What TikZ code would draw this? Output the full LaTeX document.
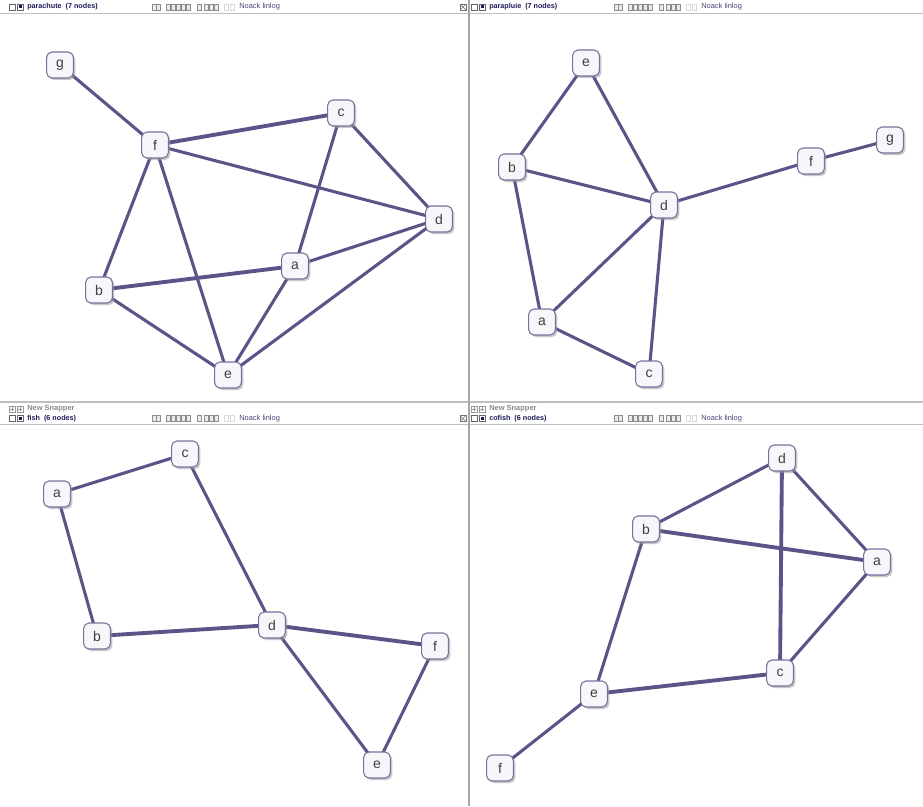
\documentclass[tikz,border=0pt]{standalone}
\usepackage{fontspec}
\setmainfont{Liberation Sans}
\usetikzlibrary{shadows,backgrounds}
\definecolor{edgecol}{RGB}{92,84,136}
\definecolor{vertline}{RGB}{120,113,155}
\definecolor{vertfill}{RGB}{246,246,251}
\definecolor{headtext}{RGB}{26,26,90}
\definecolor{panelline}{RGB}{190,190,196}
\tikzset{
  vert/.style={draw=vertline, fill=vertfill, rounded corners=4pt, line width=0.8pt,
    minimum width=20pt, minimum height=19.5pt, inner sep=0pt, text=black!75,
    font=\fontsize{10.5}{11}\selectfont,
    drop shadow={shadow xshift=1.5pt, shadow yshift=-1.5pt, fill=black!40, opacity=0.55}},
  edge/.style={draw=edgecol, line width=2.3pt},
  heavy/.style={draw=edgecol, line width=2.9pt},
  tool/.style={draw=black!45, fill=black!8, line width=0.3pt},
  headlabel/.style={anchor=west, inner sep=0pt, text=headtext, font=\fontsize{5.4}{6}\selectfont\bfseries},
}
% one header bar of a panel, #1 = left edge, #2 = centre line, #3 = title
\newcommand{\headbar}[3]{%
  \draw[black!60, line width=0.4pt] (#1+9,#2-3) rectangle (#1+15,#2+3);
  \draw[black!60, line width=0.4pt] (#1+17,#2-3) rectangle (#1+23,#2+3);
  \fill[headtext] (#1+18.5,#2-1.5) rectangle (#1+21.5,#2+1.5);
  \node[headlabel] at (#1+27,#2) {#3};
  \foreach \tx in {152,156,166,171,176,181,186,197,204,209,214}
    \draw[tool] (#1+\tx,#2-3) rectangle (#1+\tx+4.5,#2+3);
  \foreach \tx in {224,230}
    \draw[black!15, line width=0.3pt] (#1+\tx,#2-3) rectangle (#1+\tx+4.5,#2+3);
  \node[anchor=west, inner sep=0pt, text=headtext!80, font=\fontsize{5.6}{6}\selectfont] at (#1+239,#2) {Noack linlog};
}
\begin{document}
\begin{tikzpicture}[x=0.75pt,y=-0.75pt]
    \useasboundingbox (0,0) rectangle (923,806);

    % panel frames
    \draw[panelline, line width=0.8pt] (0,13.5) -- (923,13.5);
    \draw[panelline, line width=1.5pt] (0,402) -- (923,402);
    \draw[panelline, line width=0.8pt] (0,424.5) -- (923,424.5);
    \draw[black!35, line width=0.8pt] (469,0) -- (469,806);

    % headers
    \headbar{0}{7}{parachute\ \ (7 nodes)}
    \headbar{462}{7}{parapluie\ \ (7 nodes)}
    \headbar{0}{418.5}{fish\ \ (6 nodes)}
    \headbar{462}{418.5}{cofish\ \ (6 nodes)}
    \foreach \hx in {0,462} {
      \draw[black!40, line width=0.4pt] (\hx+9,406) rectangle (\hx+15,412);
      \draw[black!40, line width=0.4pt] (\hx+17,406) rectangle (\hx+23,412);
      \draw[black!40, line width=0.3pt] (\hx+10,409) -- (\hx+14,409) (\hx+12,407) -- (\hx+12,411);
      \draw[black!40, line width=0.3pt] (\hx+18,409) -- (\hx+22,409) (\hx+20,407) -- (\hx+20,411);
      \node[anchor=west, inner sep=0pt, text=black!45, font=\fontsize{5.6}{6}\selectfont\bfseries] at (\hx+27,409) {New Snapper};
    }
    \foreach \hy in {7,418.5} {
      \draw[black!55, line width=0.4pt] (460,\hy-3) rectangle (466,\hy+3);
      \draw[black!55, line width=0.3pt] (460,\hy-3) -- (466,\hy+3) (460,\hy+3) -- (466,\hy-3);
    }

    % parachute
    \node[vert] (pcg) at (60,65) {g};
    \node[vert] (pcf) at (155,145) {f};
    \node[vert] (pcc) at (341,113) {c};
    \node[vert] (pcd) at (439,219) {d};
    \node[vert] (pca) at (295,266) {a};
    \node[vert] (pcb) at (99,290) {b};
    \node[vert] (pce) at (228,375) {e};

    % parapluie
    \node[vert] (ppe) at (586,63) {e};
    \node[vert] (ppb) at (512,167) {b};
    \node[vert] (ppd) at (664,205) {d};
    \node[vert] (ppf) at (811,161) {f};
    \node[vert] (ppg) at (890,140) {g};
    \node[vert] (ppa) at (542,322) {a};
    \node[vert] (ppc) at (649,374) {c};

    % fish
    \node[vert] (fic) at (185,454) {c};
    \node[vert] (fia) at (57,494) {a};
    \node[vert] (fib) at (97,636) {b};
    \node[vert] (fid) at (272,625) {d};
    \node[vert] (fif) at (435,646) {f};
    \node[vert] (fie) at (377,765) {e};

    % cofish
    \node[vert] (cfd) at (782,458) {d};
    \node[vert] (cfb) at (646,529) {b};
    \node[vert] (cfa) at (877,562) {a};
    \node[vert] (cfc) at (780,673) {c};
    \node[vert] (cfe) at (594,694) {e};
    \node[vert] (cff) at (500,768) {f};

    % edges, drawn under the nodes
    \begin{pgfonlayer}{background}
    \fill[white] (0,0) rectangle (923,806);
    \draw[edge] (pcg.center) -- (pcf.center);
    \draw[heavy] (pcf.center) -- (pcc.center);
    \draw[edge] (pcf.center) -- (pcd.center);
    \draw[edge] (pcf.center) -- (pcb.center);
    \draw[edge] (pcf.center) -- (pce.center);
    \draw[edge] (pcc.center) -- (pcd.center);
    \draw[edge] (pcc.center) -- (pca.center);
    \draw[edge] (pca.center) -- (pcd.center);
    \draw[heavy] (pcb.center) -- (pca.center);
    \draw[edge] (pca.center) -- (pce.center);
    \draw[edge] (pcd.center) -- (pce.center);
    \draw[edge] (pcb.center) -- (pce.center);

    \draw[edge] (ppe.center) -- (ppb.center);
    \draw[edge] (ppe.center) -- (ppd.center);
    \draw[edge] (ppb.center) -- (ppd.center);
    \draw[edge] (ppb.center) -- (ppa.center);
    \draw[edge] (ppd.center) -- (ppf.center);
    \draw[edge] (ppf.center) -- (ppg.center);
    \draw[edge] (ppd.center) -- (ppa.center);
    \draw[edge] (ppd.center) -- (ppc.center);
    \draw[edge] (ppa.center) -- (ppc.center);

    \draw[edge] (fia.center) -- (fic.center);
    \draw[edge] (fia.center) -- (fib.center);
    \draw[edge] (fic.center) -- (fid.center);
    \draw[heavy] (fib.center) -- (fid.center);
    \draw[heavy] (fid.center) -- (fif.center);
    \draw[edge] (fid.center) -- (fie.center);
    \draw[edge] (fif.center) -- (fie.center);

    \draw[edge] (cfb.center) -- (cfd.center);
    \draw[edge] (cfd.center) -- (cfa.center);
    \draw[heavy] (cfd.center) -- (cfc.center);
    \draw[heavy] (cfb.center) -- (cfa.center);
    \draw[edge] (cfa.center) -- (cfc.center);
    \draw[edge] (cfb.center) -- (cfe.center);
    \draw[heavy] (cfe.center) -- (cfc.center);
    \draw[edge] (cfe.center) -- (cff.center);
    \end{pgfonlayer}
\end{tikzpicture}
\end{document}
